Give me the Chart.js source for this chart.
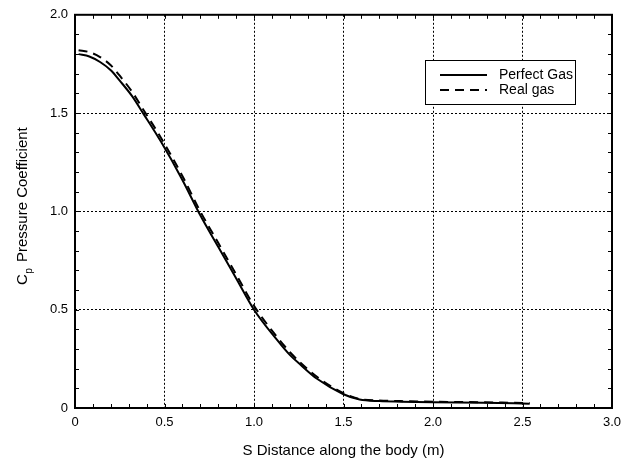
<!DOCTYPE html>
<html>
<head>
<meta charset="utf-8">
<script src="https://cdn.jsdelivr.net/npm/chart.js@4.4.0/dist/chart.umd.min.js"></script>
<style>
  body { margin: 0; background: #fff; }
  #wrap { width: 631px; height: 462px; }
</style>
</head>
<body>
<div id="wrap"><canvas id="myChart" width="631" height="462"></canvas></div>
<script>
// S distance along the body (m)
const sValues = [0.02, 0.08, 0.14, 0.2, 0.25, 0.32, 0.38, 0.48, 0.6, 0.7, 0.8, 0.9, 1.0, 1.13, 1.2, 1.26, 1.35, 1.5, 1.59, 1.7, 1.82, 2.0, 2.28, 2.54];
// Cp pressure coefficient
const perfectGas = [1.80, 1.788, 1.76, 1.718, 1.665, 1.585, 1.50, 1.355, 1.16, 0.98, 0.82, 0.66, 0.50, 0.345, 0.27, 0.22, 0.15, 0.07, 0.043, 0.035, 0.032, 0.029, 0.027, 0.022];
const realGas = [1.82, 1.81, 1.785, 1.743, 1.69, 1.607, 1.52, 1.375, 1.18, 1.00, 0.84, 0.68, 0.52, 0.36, 0.285, 0.23, 0.16, 0.075, 0.046, 0.038, 0.035, 0.032, 0.029, 0.025];
const seriesNames = ['Perfect Gas', 'Real gas'];
const xTitle = 'S Distance along the body (m)';
const yTitleMain = 'C';
const yTitleSub = 'p';
const yTitleRest = 'Pressure Coefficient';

const FONT = '"Liberation Sans", Arial, sans-serif';

const toPoints = (xs, ys) => xs.map((x, i) => ({ x: x, y: ys[i] }));

const framePlugin = {
    id: 'frame',
    afterDraw(chart) {
        const ctx = chart.ctx;
        const { left, right, top, bottom } = chart.chartArea;
        const xs = chart.scales.x;
        const ys = chart.scales.y;
        ctx.save();

        // minor ticks, pointing inward on all four sides
        ctx.strokeStyle = '#000';
        ctx.lineWidth = 1;
        ctx.beginPath();
        for (let i = 1; i < 30; i++) {
            const px = Math.round(xs.getPixelForValue(i / 10)) + 0.5;
            ctx.moveTo(px, bottom); ctx.lineTo(px, bottom - 4);
            ctx.moveTo(px, top); ctx.lineTo(px, top + 4);
        }
        for (let i = 1; i < 20; i++) {
            const py = Math.round(ys.getPixelForValue(i / 10)) + 0.5;
            ctx.moveTo(left, py); ctx.lineTo(left + 4, py);
            ctx.moveTo(right, py); ctx.lineTo(right - 4, py);
        }
        ctx.stroke();

        // frame
        ctx.lineWidth = 2;
        ctx.strokeRect(left, top, right - left, bottom - top);

        // legend box
        const bx = 425, by = 60, bw = 150, bh = 44;
        ctx.fillStyle = '#fff';
        ctx.fillRect(bx, by, bw, bh);
        ctx.lineWidth = 1;
        ctx.strokeRect(bx + 0.5, by + 0.5, bw, bh);
        ctx.font = '14px ' + FONT;
        ctx.textBaseline = 'middle';
        ctx.textAlign = 'left';
        chart.data.datasets.forEach((ds, i) => {
            const ly = 75 + i * 15;
            ctx.beginPath();
            ctx.lineWidth = ds.borderWidth;
            ctx.setLineDash(ds.borderDash || []);
            ctx.moveTo(440, ly);
            ctx.lineTo(487, ly);
            ctx.stroke();
            ctx.setLineDash([]);
            ctx.fillStyle = '#000';
            ctx.fillText(ds.label, 499, ly);
        });

        // x axis title
        ctx.font = '15px ' + FONT;
        ctx.textAlign = 'center';
        ctx.textBaseline = 'alphabetic';
        ctx.fillText(xTitle, (left + right) / 2, 455);

        // y axis title with subscript
        ctx.translate(27, 285);
        ctx.rotate(-Math.PI / 2);
        ctx.textAlign = 'left';
        ctx.font = '15px ' + FONT;
        ctx.fillText(yTitleMain, 0, 0);
        const cw = ctx.measureText(yTitleMain).width;
        ctx.font = '10px ' + FONT;
        ctx.fillText(yTitleSub, cw + 0.5, 4.5);
        ctx.font = '15px ' + FONT;
        ctx.fillText(yTitleRest, 23, 0);

        ctx.restore();
    }
};

const gridColor = (c) => {
    const v = c.tick ? c.tick.value : null;
    return (v === c.scale.min || v === c.scale.max) ? 'rgba(0,0,0,0)' : '#000';
};

new Chart(document.getElementById('myChart'), {
    type: 'line',
    data: {
        datasets: [{
            label: seriesNames[0],
            data: toPoints(sValues, perfectGas),
            borderColor: '#000',
            borderWidth: 2,
            pointRadius: 0,
            fill: false,
            cubicInterpolationMode: 'monotone'
        }, {
            label: seriesNames[1],
            data: toPoints(sValues, realGas),
            borderColor: '#000',
            borderWidth: 2,
            borderDash: [9, 6],
            pointRadius: 0,
            fill: false,
            cubicInterpolationMode: 'monotone'
        }]
    },
    options: {
        responsive: false,
        animation: false,
        layout: { padding: { top: 14, right: 19, left: 0, bottom: 0 } },
        plugins: {
            legend: { display: false },
            tooltip: { enabled: false }
        },
        scales: {
            x: {
                type: 'linear',
                min: 0,
                max: 3,
                afterFit: (scale) => { scale.height = 54; },
                ticks: {
                    stepSize: 0.5,
                    color: '#000',
                    padding: 7,
                    maxRotation: 0,
                    font: { family: FONT, size: 13 },
                    callback: (value) => value === 0 ? '0' : value.toFixed(1)
                },
                grid: { color: gridColor, lineWidth: 1, drawTicks: false },
                border: { display: false, dash: [2, 2] }
            },
            y: {
                min: 0,
                max: 2,
                afterFit: (scale) => { scale.width = 75; },
                ticks: {
                    stepSize: 0.5,
                    color: '#000',
                    padding: 7,
                    font: { family: FONT, size: 13 },
                    callback: (value) => value === 0 ? '0' : value.toFixed(1)
                },
                grid: { color: gridColor, lineWidth: 1, drawTicks: false },
                border: { display: false, dash: [2, 2] }
            }
        }
    },
    plugins: [framePlugin]
});
</script>
</body>
</html>
